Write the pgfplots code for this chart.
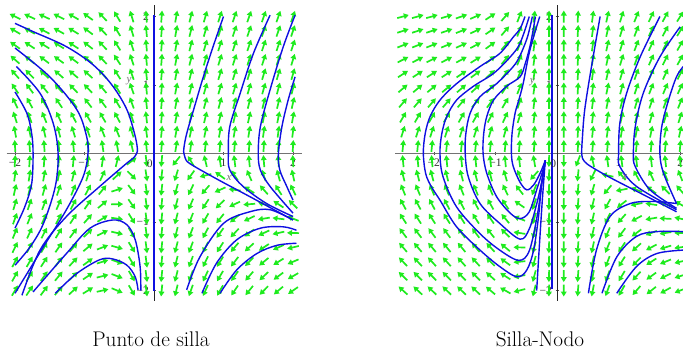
\documentclass[border=0pt]{standalone}
\usepackage{fontspec}
\newfontfamily\tickfont{Liberation Serif}
\usepackage{pgfplots}
\usepackage{pgfplotstable}
\pgfplotsset{compat=1.18}
\usetikzlibrary{arrows.meta}
\definecolor{fieldgreen}{RGB}{30,235,30}
\definecolor{trajblue}{RGB}{15,15,225}

\pgfplotstableread{
x y u v
-2.00 2.00 -4.00 2.00
-1.79 2.00 -3.58 1.70
-1.58 2.00 -3.16 1.51
-1.37 2.00 -2.74 1.39
-1.16 2.00 -2.32 1.37
-0.95 2.00 -1.90 1.42
-0.74 2.00 -1.48 1.57
-0.53 2.00 -1.06 1.81
-0.32 2.00 -0.64 2.13
-0.11 2.00 -0.22 2.55
0.11 2.00 0.22 3.07
0.32 2.00 0.64 3.67
0.53 2.00 1.06 4.35
0.74 2.00 1.48 5.13
0.95 2.00 1.90 5.98
1.16 2.00 2.32 6.93
1.37 2.00 2.74 7.97
1.58 2.00 3.16 9.09
1.79 2.00 3.58 10.3
2.00 2.00 4.00 11.6
-2.00 1.79 -3.58 2.13
-1.79 1.79 -3.20 1.79
-1.58 1.79 -2.83 1.53
-1.37 1.79 -2.45 1.37
-1.16 1.79 -2.08 1.28
-0.95 1.79 -1.70 1.29
-0.74 1.79 -1.32 1.40
-0.53 1.79 -0.95 1.57
-0.32 1.79 -0.57 1.85
-0.11 1.79 -0.20 2.20
0.11 1.79 0.20 2.68
0.32 1.79 0.57 3.21
0.53 1.79 0.95 3.85
0.74 1.79 1.32 4.56
0.95 1.79 1.70 5.37
1.16 1.79 2.08 6.28
1.37 1.79 2.45 7.25
1.58 1.79 2.83 8.33
1.79 1.79 3.20 9.47
2.00 1.79 3.58 10.73
-2.00 1.58 -3.16 2.29
-1.79 1.58 -2.83 1.88
-1.58 1.58 -2.50 1.58
-1.37 1.58 -2.16 1.37
-1.16 1.58 -1.83 1.23
-0.95 1.58 -1.50 1.18
-0.74 1.58 -1.17 1.23
-0.53 1.58 -0.84 1.35
-0.32 1.58 -0.51 1.57
-0.11 1.58 -0.17 1.88
0.11 1.58 0.17 2.30
0.32 1.58 0.51 2.79
0.53 1.58 0.84 3.37
0.74 1.58 1.17 4.03
0.95 1.58 1.50 4.78
1.16 1.58 1.83 5.63
1.37 1.58 2.16 6.55
1.58 1.58 2.50 7.58
1.79 1.58 2.83 8.68
2.00 1.58 3.16 9.87
-2.00 1.37 -2.74 2.46
-1.79 1.37 -2.45 2.01
-1.58 1.37 -2.16 1.66
-1.37 1.37 -1.88 1.38
-1.16 1.37 -1.59 1.19
-0.95 1.37 -1.30 1.09
-0.74 1.37 -1.01 1.08
-0.53 1.37 -0.73 1.15
-0.32 1.37 -0.44 1.32
-0.11 1.37 -0.15 1.58
0.11 1.37 0.15 1.94
0.32 1.37 0.44 2.38
0.53 1.37 0.73 2.91
0.74 1.37 1.01 3.52
0.95 1.37 1.30 4.21
1.16 1.37 1.59 5.01
1.37 1.37 1.88 5.88
1.58 1.37 2.16 6.84
1.79 1.37 2.45 7.89
2.00 1.37 2.74 9.04
-2.00 1.16 -2.32 2.65
-1.79 1.16 -2.08 2.13
-1.58 1.16 -1.83 1.73
-1.37 1.16 -1.59 1.40
-1.16 1.16 -1.35 1.16
-0.95 1.16 -1.10 1.01
-0.74 1.16 -0.86 0.95
-0.53 1.16 -0.61 0.97
-0.32 1.16 -0.37 1.08
-0.11 1.16 -0.13 1.28
0.11 1.16 0.13 1.60
0.32 1.16 0.37 1.98
0.53 1.16 0.61 2.45
0.74 1.16 0.86 3.01
0.95 1.16 1.10 3.65
1.16 1.16 1.35 4.40
1.37 1.16 1.59 5.22
1.58 1.16 1.83 6.13
1.79 1.16 2.08 7.13
2.00 1.16 2.32 8.21
-2.00 0.95 -1.90 2.85
-1.79 0.95 -1.70 2.29
-1.58 0.95 -1.50 1.83
-1.37 0.95 -1.30 1.45
-1.16 0.95 -1.10 1.16
-0.95 0.95 -0.90 0.95
-0.74 0.95 -0.70 0.84
-0.53 0.95 -0.50 0.81
-0.32 0.95 -0.30 0.87
-0.11 0.95 -0.10 1.02
0.11 0.95 0.10 1.26
0.32 0.95 0.30 1.59
0.53 0.95 0.50 2.01
0.74 0.95 0.70 2.52
0.95 0.95 0.90 3.11
1.16 0.95 1.10 3.80
1.37 0.95 1.30 4.57
1.58 0.95 1.50 5.43
1.79 0.95 1.70 6.37
2.00 0.95 1.90 7.41
-2.00 0.74 -1.48 3.07
-1.79 0.74 -1.32 2.47
-1.58 0.74 -1.17 1.95
-1.37 0.74 -1.01 1.51
-1.16 0.74 -0.86 1.17
-0.95 0.74 -0.70 0.91
-0.74 0.74 -0.55 0.74
-0.53 0.74 -0.39 0.66
-0.32 0.74 -0.24 0.66
-0.11 0.74 -0.08 0.76
0.11 0.74 0.08 0.96
0.32 0.74 0.24 1.24
0.53 0.74 0.39 1.60
0.74 0.74 0.55 2.06
0.95 0.74 0.70 2.59
1.16 0.74 0.86 3.23
1.37 0.74 1.01 3.95
1.58 0.74 1.17 4.75
1.79 0.74 1.32 5.63
2.00 0.74 1.48 6.63
-2.00 0.53 -1.06 3.32
-1.79 0.53 -0.95 2.65
-1.58 0.53 -0.84 2.08
-1.37 0.53 -0.73 1.59
-1.16 0.53 -0.61 1.20
-0.95 0.53 -0.50 0.89
-0.74 0.53 -0.39 0.67
-0.53 0.53 -0.28 0.53
-0.32 0.53 -0.17 0.49
-0.11 0.53 -0.06 0.53
0.11 0.53 0.06 0.67
0.32 0.53 0.17 0.89
0.53 0.53 0.28 1.21
0.74 0.53 0.39 1.61
0.95 0.53 0.50 2.09
1.16 0.53 0.61 2.68
1.37 0.53 0.73 3.35
1.58 0.53 0.84 4.10
1.79 0.53 0.95 4.93
2.00 0.53 1.06 5.86
-2.00 0.32 -0.64 3.57
-1.79 0.32 -0.57 2.86
-1.58 0.32 -0.51 2.23
-1.37 0.32 -0.44 1.69
-1.16 0.32 -0.37 1.24
-0.95 0.32 -0.30 0.88
-0.74 0.32 -0.24 0.60
-0.53 0.32 -0.17 0.42
-0.32 0.32 -0.10 0.32
-0.11 0.32 -0.04 0.31
0.11 0.32 0.04 0.39
0.32 0.32 0.10 0.56
0.53 0.32 0.17 0.82
0.74 0.32 0.24 1.18
0.95 0.32 0.30 1.60
1.16 0.32 0.37 2.14
1.37 0.32 0.44 2.75
1.58 0.32 0.51 3.45
1.79 0.32 0.57 4.22
2.00 0.32 0.64 5.11
-2.00 0.11 -0.22 3.85
-1.79 0.11 -0.20 3.07
-1.58 0.11 -0.17 2.40
-1.37 0.11 -0.15 1.81
-1.16 0.11 -0.13 1.30
-0.95 0.11 -0.10 0.89
-0.74 0.11 -0.08 0.56
-0.53 0.11 -0.06 0.32
-0.32 0.11 -0.04 0.17
-0.11 0.11 -0.01 0.11
0.11 0.11 0.01 0.13
0.32 0.11 0.04 0.25
0.53 0.11 0.06 0.46
0.74 0.11 0.08 0.76
0.95 0.11 0.10 1.13
1.16 0.11 0.13 1.62
1.37 0.11 0.15 2.17
1.58 0.11 0.17 2.82
1.79 0.11 0.20 3.55
2.00 0.11 0.22 4.37
-2.00 -0.11 0.22 4.15
-1.79 -0.11 0.20 3.33
-1.58 -0.11 0.17 2.60
-1.37 -0.11 0.15 1.95
-1.16 -0.11 0.13 1.40
-0.95 -0.11 0.10 0.91
-0.74 -0.11 0.08 0.54
-0.53 -0.11 0.06 0.24
-0.32 -0.11 0.04 0.03
-0.11 -0.11 0.01 -0.09
0.11 -0.11 -0.01 -0.11
0.32 -0.11 -0.04 -0.05
0.53 -0.11 -0.06 0.10
0.74 -0.11 -0.08 0.34
0.95 -0.11 -0.10 0.67
1.16 -0.11 -0.13 1.08
1.37 -0.11 -0.15 1.59
1.58 -0.11 -0.17 2.18
1.79 -0.11 -0.20 2.85
2.00 -0.11 -0.22 3.63
-2.00 -0.32 0.64 4.45
-1.79 -0.32 0.57 3.56
-1.58 -0.32 0.51 2.79
-1.37 -0.32 0.44 2.09
-1.16 -0.32 0.37 1.48
-0.95 -0.32 0.30 0.94
-0.74 -0.32 0.24 0.52
-0.53 -0.32 0.17 0.16
-0.32 -0.32 0.10 -0.10
-0.11 -0.32 0.04 -0.27
0.11 -0.32 -0.04 -0.35
0.32 -0.32 -0.10 -0.34
0.53 -0.32 -0.17 -0.24
0.74 -0.32 -0.24 -0.06
0.95 -0.32 -0.30 0.22
1.16 -0.32 -0.37 0.58
1.37 -0.32 -0.44 1.03
1.58 -0.32 -0.51 1.57
1.79 -0.32 -0.57 2.20
2.00 -0.32 -0.64 2.91
-2.00 -0.53 1.06 4.74
-1.79 -0.53 0.95 3.81
-1.58 -0.53 0.84 2.98
-1.37 -0.53 0.73 2.23
-1.16 -0.53 0.61 1.56
-0.95 -0.53 0.50 0.97
-0.74 -0.53 0.39 0.49
-0.53 -0.53 0.28 0.09
-0.32 -0.53 0.17 -0.23
-0.11 -0.53 0.06 -0.45
0.11 -0.53 -0.06 -0.59
0.32 -0.53 -0.17 -0.63
0.53 -0.53 -0.28 -0.59
0.74 -0.53 -0.39 -0.45
0.95 -0.53 -0.50 -0.23
1.16 -0.53 -0.61 0.08
1.37 -0.53 -0.73 0.47
1.58 -0.53 -0.84 0.96
1.79 -0.53 -0.95 1.53
2.00 -0.53 -1.06 2.20
-2.00 -0.74 1.48 5.04
-1.79 -0.74 1.32 4.04
-1.58 -0.74 1.17 3.16
-1.37 -0.74 1.01 2.36
-1.16 -0.74 0.86 1.64
-0.95 -0.74 0.70 1.00
-0.74 -0.74 0.55 0.47
-0.53 -0.74 0.39 0.01
-0.32 -0.74 0.24 -0.35
-0.11 -0.74 0.08 -0.63
0.11 -0.74 -0.08 -0.83
0.32 -0.74 -0.24 -0.93
0.53 -0.74 -0.39 -0.93
0.74 -0.74 -0.55 -0.85
0.95 -0.74 -0.70 -0.68
1.16 -0.74 -0.86 -0.42
1.37 -0.74 -1.01 -0.08
1.58 -0.74 -1.17 0.36
1.79 -0.74 -1.32 0.88
2.00 -0.74 -1.48 1.48
-2.00 -0.95 1.90 5.33
-1.79 -0.95 1.70 4.29
-1.58 -0.95 1.50 3.35
-1.37 -0.95 1.30 2.49
-1.16 -0.95 1.10 1.72
-0.95 -0.95 0.90 1.03
-0.74 -0.95 0.70 0.44
-0.53 -0.95 0.50 -0.07
-0.32 -0.95 0.30 -0.49
-0.11 -0.95 0.10 -0.82
0.11 -0.95 -0.10 -1.06
0.32 -0.95 -0.30 -1.21
0.53 -0.95 -0.50 -1.27
0.74 -0.95 -0.70 -1.24
0.95 -0.95 -0.90 -1.13
1.16 -0.95 -1.10 -0.92
1.37 -0.95 -1.30 -0.63
1.58 -0.95 -1.50 -0.25
1.79 -0.95 -1.70 0.21
2.00 -0.95 -1.90 0.77
-2.00 -1.16 2.32 5.62
-1.79 -1.16 2.08 4.54
-1.58 -1.16 1.83 3.54
-1.37 -1.16 1.59 2.63
-1.16 -1.16 1.35 1.81
-0.95 -1.16 1.10 1.06
-0.74 -1.16 0.86 0.42
-0.53 -1.16 0.61 -0.14
-0.32 -1.16 0.37 -0.61
-0.11 -1.16 0.13 -0.99
0.11 -1.16 -0.13 -1.31
0.32 -1.16 -0.37 -1.51
0.53 -1.16 -0.61 -1.62
0.74 -1.16 -0.86 -1.64
0.95 -1.16 -1.10 -1.58
1.16 -1.16 -1.35 -1.43
1.37 -1.16 -1.59 -1.19
1.58 -1.16 -1.83 -0.86
1.79 -1.16 -2.08 -0.46
2.00 -1.16 -2.32 0.06
-2.00 -1.37 2.74 5.92
-1.79 -1.37 2.45 4.77
-1.58 -1.37 2.16 3.72
-1.37 -1.37 1.88 2.76
-1.16 -1.37 1.59 1.89
-0.95 -1.37 1.30 1.09
-0.74 -1.37 1.01 0.40
-0.53 -1.37 0.73 -0.21
-0.32 -1.37 0.44 -0.74
-0.11 -1.37 0.15 -1.18
0.11 -1.37 -0.15 -1.54
0.32 -1.37 -0.44 -1.80
0.53 -1.37 -0.73 -1.97
0.74 -1.37 -1.01 -2.04
0.95 -1.37 -1.30 -2.03
1.16 -1.37 -1.59 -1.93
1.37 -1.37 -1.88 -1.74
1.58 -1.37 -2.16 -1.46
1.79 -1.37 -2.45 -1.11
2.00 -1.37 -2.74 -0.66
-2.00 -1.58 3.16 6.21
-1.79 -1.58 2.83 5.02
-1.58 -1.58 2.50 3.92
-1.37 -1.58 2.16 2.89
-1.16 -1.58 1.83 1.97
-0.95 -1.58 1.50 1.12
-0.74 -1.58 1.17 0.37
-0.53 -1.58 0.84 -0.29
-0.32 -1.58 0.51 -0.87
-0.11 -1.58 0.17 -1.36
0.11 -1.58 -0.17 -1.78
0.32 -1.58 -0.51 -2.09
0.53 -1.58 -0.84 -2.31
0.74 -1.58 -1.17 -2.43
0.95 -1.58 -1.50 -2.48
1.16 -1.58 -1.83 -2.43
1.37 -1.58 -2.16 -2.29
1.58 -1.58 -2.50 -2.08
1.79 -1.58 -2.83 -1.78
2.00 -1.58 -3.16 -1.37
-2.00 -1.79 3.58 6.51
-1.79 -1.79 3.20 5.25
-1.58 -1.79 2.83 4.11
-1.37 -1.79 2.45 3.03
-1.16 -1.79 2.08 2.06
-0.95 -1.79 1.70 1.15
-0.74 -1.79 1.32 0.34
-0.53 -1.79 0.95 -0.37
-0.32 -1.79 0.57 -1.01
-0.11 -1.79 0.20 -1.54
0.11 -1.79 -0.20 -2.02
0.32 -1.79 -0.57 -2.37
0.53 -1.79 -0.95 -2.65
0.74 -1.79 -1.32 -2.82
0.95 -1.79 -1.70 -2.93
1.16 -1.79 -2.08 -2.94
1.37 -1.79 -2.45 -2.85
1.58 -1.79 -2.83 -2.69
1.79 -1.79 -3.20 -2.43
2.00 -1.79 -3.58 -2.09
-2.00 -2.00 4.00 6.80
-1.79 -2.00 3.58 5.50
-1.58 -2.00 3.16 4.29
-1.37 -2.00 2.74 3.17
-1.16 -2.00 2.32 2.13
-0.95 -2.00 1.90 1.18
-0.74 -2.00 1.48 0.33
-0.53 -2.00 1.06 -0.45
-0.32 -2.00 0.64 -1.13
-0.11 -2.00 0.22 -1.73
0.11 -2.00 -0.22 -2.25
0.32 -2.00 -0.64 -2.67
0.53 -2.00 -1.06 -2.99
0.74 -2.00 -1.48 -3.23
0.95 -2.00 -1.90 -3.38
1.16 -2.00 -2.32 -3.43
1.37 -2.00 -2.74 -3.41
1.58 -2.00 -3.16 -3.29
1.79 -2.00 -3.58 -3.10
2.00 -2.00 -4.00 -2.80
}\fieldL

\pgfplotstableread{
x y u v
-2.50 2.00 12.5 3.05
-2.26 2.00 10.2 2.49
-2.03 2.00 8.24 2.05
-1.79 2.00 6.40 1.70
-1.55 2.00 4.80 1.48
-1.32 2.00 3.48 1.37
-1.08 2.00 2.34 1.38
-0.84 2.00 1.42 1.49
-0.61 2.00 0.74 1.71
-0.37 2.00 0.28 2.05
-0.13 2.00 0.04 2.51
0.11 2.00 0.02 3.07
0.34 2.00 0.24 3.74
0.58 2.00 0.68 4.53
0.82 2.00 1.34 5.44
1.05 2.00 2.20 6.42
1.29 2.00 3.32 7.56
1.53 2.00 4.68 8.81
1.76 2.00 6.20 10.12
2.00 2.00 8.00 11.6
-2.50 1.79 11.19 3.30
-2.26 1.79 9.15 2.68
-2.03 1.79 7.37 2.19
-1.79 1.79 5.73 1.78
-1.55 1.79 4.30 1.50
-1.32 1.79 3.11 1.33
-1.08 1.79 2.09 1.28
-0.84 1.79 1.27 1.33
-0.61 1.79 0.66 1.49
-0.37 1.79 0.25 1.77
-0.13 1.79 0.04 2.17
0.11 1.79 0.02 2.68
0.34 1.79 0.21 3.28
0.58 1.79 0.61 4.02
0.82 1.79 1.20 4.86
1.05 1.79 1.97 5.79
1.29 1.79 2.97 6.86
1.53 1.79 4.19 8.06
1.76 1.79 5.55 9.31
2.00 1.79 7.16 10.73
-2.50 1.58 9.88 3.58
-2.26 1.58 8.07 2.90
-2.03 1.58 6.51 2.34
-1.79 1.58 5.06 1.88
-1.55 1.58 3.79 1.53
-1.32 1.58 2.75 1.31
-1.08 1.58 1.85 1.20
-0.84 1.58 1.12 1.19
-0.61 1.58 0.58 1.29
-0.37 1.58 0.22 1.52
-0.13 1.58 0.03 1.85
0.11 1.58 0.02 2.30
0.34 1.58 0.19 2.85
0.58 1.58 0.54 3.52
0.82 1.58 1.06 4.31
1.05 1.58 1.74 5.18
1.29 1.58 2.62 6.19
1.53 1.58 3.70 7.33
1.76 1.58 4.90 8.52
2.00 1.58 6.32 9.88
-2.50 1.37 8.56 3.90
-2.26 1.37 7.00 3.15
-2.03 1.37 5.64 2.54
-1.79 1.37 4.38 2.01
-1.55 1.37 3.29 1.61
-1.32 1.37 2.38 1.33
-1.08 1.37 1.60 1.15
-0.84 1.37 0.97 1.08
-0.61 1.37 0.51 1.12
-0.37 1.37 0.19 1.28
-0.13 1.37 0.03 1.56
0.11 1.37 0.01 1.94
0.34 1.37 0.16 2.43
0.58 1.37 0.47 3.04
0.82 1.37 0.92 3.76
1.05 1.37 1.51 4.57
1.29 1.37 2.27 5.53
1.53 1.37 3.21 6.60
1.76 1.37 4.25 7.74
2.00 1.37 5.48 9.03
-2.50 1.16 7.25 4.20
-2.26 1.16 5.93 3.40
-2.03 1.16 4.78 2.73
-1.79 1.16 3.71 2.14
-1.55 1.16 2.78 1.68
-1.32 1.16 2.02 1.34
-1.08 1.16 1.36 1.10
-0.84 1.16 0.82 0.97
-0.61 1.16 0.43 0.95
-0.37 1.16 0.16 1.06
-0.13 1.16 0.02 1.27
0.11 1.16 0.01 1.59
0.34 1.16 0.14 2.02
0.58 1.16 0.39 2.58
0.82 1.16 0.78 3.24
1.05 1.16 1.28 3.99
1.29 1.16 1.93 4.88
1.53 1.16 2.71 5.90
1.76 1.16 3.60 6.98
2.00 1.16 4.64 8.21
-2.50 0.95 5.94 4.53
-2.26 0.95 4.85 3.66
-2.03 0.95 3.91 2.94
-1.79 0.95 3.04 2.29
-1.55 0.95 2.28 1.76
-1.32 0.95 1.65 1.37
-1.08 0.95 1.11 1.07
-0.84 0.95 0.67 0.88
-0.61 0.95 0.35 0.80
-0.37 0.95 0.13 0.85
-0.13 0.95 0.02 1.00
0.11 0.95 0.01 1.27
0.34 0.95 0.11 1.64
0.58 0.95 0.32 2.13
0.82 0.95 0.64 2.73
1.05 0.95 1.05 3.43
1.29 0.95 1.58 4.26
1.53 0.95 2.22 5.21
1.76 0.95 2.95 6.24
2.00 0.95 3.80 7.41
-2.50 0.74 4.63 4.87
-2.26 0.74 3.78 3.95
-2.03 0.74 3.05 3.16
-1.79 0.74 2.37 2.46
-1.55 0.74 1.78 1.87
-1.32 0.74 1.29 1.42
-1.08 0.74 0.87 1.06
-0.84 0.74 0.53 0.81
-0.61 0.74 0.27 0.68
-0.37 0.74 0.10 0.66
-0.13 0.74 0.01 0.75
0.11 0.74 0.01 0.96
0.34 0.74 0.09 1.27
0.58 0.74 0.25 1.71
0.82 0.74 0.50 2.25
1.05 0.74 0.81 2.88
1.29 0.74 1.23 3.66
1.53 0.74 1.73 4.55
1.76 0.74 2.29 5.52
2.00 0.74 2.96 6.63
-2.50 0.53 3.31 5.24
-2.26 0.53 2.71 4.25
-2.03 0.53 2.18 3.41
-1.79 0.53 1.70 2.64
-1.55 0.53 1.27 2.00
-1.32 0.53 0.92 1.49
-1.08 0.53 0.62 1.07
-0.84 0.53 0.38 0.76
-0.61 0.53 0.20 0.57
-0.37 0.53 0.07 0.49
-0.13 0.53 0.01 0.53
0.11 0.53 0.01 0.67
0.34 0.53 0.06 0.93
0.58 0.53 0.18 1.30
0.82 0.53 0.36 1.78
1.05 0.53 0.58 2.36
1.29 0.53 0.88 3.08
1.53 0.53 1.24 3.91
1.76 0.53 1.64 4.82
2.00 0.53 2.12 5.87
-2.50 0.32 2.00 5.64
-2.26 0.32 1.64 4.59
-2.03 0.32 1.32 3.69
-1.79 0.32 1.02 2.86
-1.55 0.32 0.77 2.15
-1.32 0.32 0.56 1.58
-1.08 0.32 0.37 1.10
-0.84 0.32 0.23 0.73
-0.61 0.32 0.12 0.48
-0.37 0.32 0.04 0.34
-0.13 0.32 0.01 0.31
0.11 0.32 0.003 0.39
0.34 0.32 0.04 0.59
0.58 0.32 0.11 0.90
0.82 0.32 0.21 1.32
1.05 0.32 0.35 1.84
1.29 0.32 0.53 2.49
1.53 0.32 0.75 3.26
1.76 0.32 0.99 4.11
2.00 0.32 1.28 5.10
-2.50 0.11 0.69 6.03
-2.26 0.11 0.56 4.93
-2.03 0.11 0.45 3.97
-1.79 0.11 0.35 3.08
-1.55 0.11 0.26 2.31
-1.32 0.11 0.19 1.68
-1.08 0.11 0.13 1.14
-0.84 0.11 0.08 0.71
-0.61 0.11 0.04 0.40
-0.37 0.11 0.015 0.20
-0.13 0.11 0.002 0.11
0.11 0.11 0.001 0.13
0.34 0.11 0.013 0.27
0.58 0.11 0.04 0.53
0.82 0.11 0.07 0.89
1.05 0.11 0.12 1.35
1.29 0.11 0.18 1.94
1.53 0.11 0.26 2.65
1.76 0.11 0.34 3.44
2.00 0.11 0.44 4.37
-2.50 -0.11 -0.69 6.47
-2.26 -0.11 -0.56 5.29
-2.03 -0.11 -0.45 4.27
-1.79 -0.11 -0.35 3.32
-1.55 -0.11 -0.26 2.49
-1.32 -0.11 -0.19 1.80
-1.08 -0.11 -0.13 1.20
-0.84 -0.11 -0.08 0.71
-0.61 -0.11 -0.04 0.34
-0.37 -0.11 -0.015 0.08
-0.13 -0.11 -0.002 -0.07
0.11 -0.11 -0.001 -0.11
0.34 -0.11 -0.013 -0.03
0.58 -0.11 -0.04 0.15
0.82 -0.11 -0.07 0.45
1.05 -0.11 -0.12 0.85
1.29 -0.11 -0.18 1.38
1.53 -0.11 -0.26 2.03
1.76 -0.11 -0.34 2.76
2.00 -0.11 -0.44 3.63
-2.50 -0.32 -2.00 6.88
-2.26 -0.32 -1.64 5.65
-2.03 -0.32 -1.32 4.57
-1.79 -0.32 -1.02 3.56
-1.55 -0.32 -0.77 2.67
-1.32 -0.32 -0.56 1.92
-1.08 -0.32 -0.37 1.26
-0.84 -0.32 -0.23 0.71
-0.61 -0.32 -0.12 0.28
-0.37 -0.32 -0.04 -0.04
-0.13 -0.32 -0.01 -0.25
0.11 -0.32 -0.003 -0.35
0.34 -0.32 -0.04 -0.33
0.58 -0.32 -0.11 -0.20
0.82 -0.32 -0.21 0.04
1.05 -0.32 -0.35 0.38
1.29 -0.32 -0.53 0.85
1.53 -0.32 -0.75 1.44
1.76 -0.32 -0.99 2.11
2.00 -0.32 -1.28 2.92
-2.50 -0.53 -3.31 7.32
-2.26 -0.53 -2.71 6.03
-2.03 -0.53 -2.18 4.89
-1.79 -0.53 -1.70 3.82
-1.55 -0.53 -1.27 2.86
-1.32 -0.53 -0.92 2.05
-1.08 -0.53 -0.62 1.33
-0.84 -0.53 -0.38 0.72
-0.61 -0.53 -0.20 0.23
-0.37 -0.53 -0.07 -0.15
-0.13 -0.53 -0.01 -0.43
0.11 -0.53 -0.01 -0.59
0.34 -0.53 -0.06 -0.63
0.58 -0.53 -0.18 -0.56
0.82 -0.53 -0.36 -0.38
1.05 -0.53 -0.58 -0.10
1.29 -0.53 -0.88 0.30
1.53 -0.53 -1.24 0.83
1.76 -0.53 -1.64 1.44
2.00 -0.53 -2.12 2.19
-2.50 -0.74 -4.63 7.74
-2.26 -0.74 -3.78 6.38
-2.03 -0.74 -3.05 5.19
-1.79 -0.74 -2.37 4.05
-1.55 -0.74 -1.78 3.04
-1.32 -0.74 -1.29 2.17
-1.08 -0.74 -0.87 1.39
-0.84 -0.74 -0.53 0.72
-0.61 -0.74 -0.27 0.17
-0.37 -0.74 -0.10 -0.27
-0.13 -0.74 -0.01 -0.60
0.11 -0.74 -0.01 -0.83
0.34 -0.74 -0.09 -0.92
0.58 -0.74 -0.25 -0.92
0.82 -0.74 -0.50 -0.80
1.05 -0.74 -0.81 -0.57
1.29 -0.74 -1.23 -0.23
1.53 -0.74 -1.73 0.24
1.76 -0.74 -2.29 0.79
2.00 -0.74 -2.96 1.48
-2.50 -0.95 -5.94 8.15
-2.26 -0.95 -4.85 6.74
-2.03 -0.95 -3.91 5.48
-1.79 -0.95 -3.04 4.29
-1.55 -0.95 -2.28 3.22
-1.32 -0.95 -1.65 2.29
-1.08 -0.95 -1.11 1.45
-0.84 -0.95 -0.67 0.72
-0.61 -0.95 -0.35 0.12
-0.37 -0.95 -0.13 -0.39
-0.13 -0.95 -0.02 -0.78
0.11 -0.95 -0.01 -1.07
0.34 -0.95 -0.11 -1.22
0.58 -0.95 -0.32 -1.27
0.82 -0.95 -0.64 -1.21
1.05 -0.95 -1.05 -1.05
1.29 -0.95 -1.58 -0.76
1.53 -0.95 -2.22 -0.35
1.76 -0.95 -2.95 0.14
2.00 -0.95 -3.80 0.77
-2.50 -1.16 -7.25 8.57
-2.26 -1.16 -5.93 7.09
-2.03 -1.16 -4.78 5.78
-1.79 -1.16 -3.71 4.53
-1.55 -1.16 -2.78 3.39
-1.32 -1.16 -2.02 2.41
-1.08 -1.16 -1.36 1.51
-0.84 -1.16 -0.82 0.72
-0.61 -1.16 -0.43 0.06
-0.37 -1.16 -0.16 -0.51
-0.13 -1.16 -0.02 -0.96
0.11 -1.16 -0.01 -1.30
0.34 -1.16 -0.14 -1.51
0.58 -1.16 -0.39 -1.63
0.82 -1.16 -0.78 -1.63
1.05 -1.16 -1.28 -1.52
1.29 -1.16 -1.93 -1.29
1.53 -1.16 -2.71 -0.95
1.76 -1.16 -3.60 -0.51
2.00 -1.16 -4.64 0.06
-2.50 -1.37 -8.56 8.98
-2.26 -1.37 -7.00 7.45
-2.03 -1.37 -5.64 6.08
-1.79 -1.37 -4.38 4.77
-1.55 -1.37 -3.29 3.57
-1.32 -1.37 -2.38 2.53
-1.08 -1.37 -1.60 1.57
-0.84 -1.37 -0.97 0.72
-0.61 -1.37 -0.51 0.01
-0.37 -1.37 -0.19 -0.62
-0.13 -1.37 -0.03 -1.14
0.11 -1.37 -0.01 -1.54
0.34 -1.37 -0.16 -1.81
0.58 -1.37 -0.47 -1.98
0.82 -1.37 -0.92 -2.04
1.05 -1.37 -1.51 -1.99
1.29 -1.37 -2.27 -1.83
1.53 -1.37 -3.21 -1.54
1.76 -1.37 -4.25 -1.16
2.00 -1.37 -5.48 -0.65
-2.50 -1.58 -9.88 9.42
-2.26 -1.58 -8.07 7.82
-2.03 -1.58 -6.51 6.40
-1.79 -1.58 -5.06 5.02
-1.55 -1.58 -3.79 3.77
-1.32 -1.58 -2.75 2.67
-1.08 -1.58 -1.85 1.64
-0.84 -1.58 -1.12 0.73
-0.61 -1.58 -0.58 -0.05
-0.37 -1.58 -0.22 -0.74
-0.13 -1.58 -0.03 -1.31
0.11 -1.58 -0.02 -1.78
0.34 -1.58 -0.19 -2.11
0.58 -1.58 -0.54 -2.34
0.82 -1.58 -1.06 -2.47
1.05 -1.58 -1.74 -2.48
1.29 -1.58 -2.62 -2.37
1.53 -1.58 -3.70 -2.15
1.76 -1.58 -4.90 -1.82
2.00 -1.58 -6.32 -1.38
-2.50 -1.79 -11.19 9.84
-2.26 -1.79 -9.15 8.18
-2.03 -1.79 -7.37 6.69
-1.79 -1.79 -5.73 5.26
-1.55 -1.79 -4.30 3.94
-1.32 -1.79 -3.11 2.79
-1.08 -1.79 -2.09 1.70
-0.84 -1.79 -1.27 0.73
-0.61 -1.79 -0.66 -0.11
-0.37 -1.79 -0.25 -0.85
-0.13 -1.79 -0.04 -1.49
0.11 -1.79 -0.02 -2.02
0.34 -1.79 -0.21 -2.40
0.58 -1.79 -0.61 -2.70
0.82 -1.79 -1.20 -2.88
1.05 -1.79 -1.97 -2.95
1.29 -1.79 -2.97 -2.90
1.53 -1.79 -4.19 -2.74
1.76 -1.79 -5.55 -2.47
2.00 -1.79 -7.16 -2.09
-2.50 -2.00 -12.5 10.25
-2.26 -2.00 -10.2 8.53
-2.03 -2.00 -8.24 6.99
-1.79 -2.00 -6.40 5.50
-1.55 -2.00 -4.80 4.12
-1.32 -2.00 -3.48 2.91
-1.08 -2.00 -2.34 1.76
-0.84 -2.00 -1.42 0.73
-0.61 -2.00 -0.74 -0.17
-0.37 -2.00 -0.28 -0.97
-0.13 -2.00 -0.04 -1.67
0.11 -2.00 -0.02 -2.25
0.34 -2.00 -0.24 -2.70
0.58 -2.00 -0.68 -3.05
0.82 -2.00 -1.34 -3.30
1.05 -2.00 -2.20 -3.42
1.29 -2.00 -3.32 -3.44
1.53 -2.00 -4.68 -3.33
1.76 -2.00 -6.20 -3.12
2.00 -2.00 -8.00 -2.80
}\fieldR

\pgfplotsset{
  phase/.style={
    axis lines=middle, enlargelimits=false, clip=false,
    axis line style={-},
    every inner x axis line/.append style={-},
    every inner y axis line/.append style={-},
    x axis line style={draw=black!55, line width=0.9pt},
    y axis line style={draw=black!85, line width=0.9pt},
    xtick={-2,-1,1,2}, ytick={-2,-1,1,2},
    xticklabels={−2,−1,1,2}, yticklabels={−2,−1,1,2},
    tick label style={font=\tickfont\fontsize{11.5}{12}\selectfont, text=black!80},
    major tick length=3pt,
    tick style={draw=black!70, line width=0.6pt},
  },
  traj/.style={trajblue, line width=1.4pt, smooth, tension=0.55, no markers},
  field/.style={fieldgreen, line width=1.7pt, -{Triangle[length=5pt,width=5.6pt]}, no markers},
}

\begin{document}
\begin{tikzpicture}
\useasboundingbox (0,0) rectangle (683pt,-352pt);

% ---------------- left: Punto de silla ----------------
\begin{axis}[phase, at={(6.66pt,-300.8pt)}, anchor=south west,
  x=69.5pt, y=68.5pt, xmin=-2.12, xmax=2.13, ymin=-2.15, ymax=2.17]
\addplot[field, quiver={
    u={0.17266*cos(atan2(68.5*\thisrow{v},69.5*\thisrow{u}))},
    v={0.17518*sin(atan2(68.5*\thisrow{v},69.5*\thisrow{u}))}}]
  table[x expr={\thisrow{x}-0.08633*cos(atan2(68.5*\thisrow{v},69.5*\thisrow{u}))},
        y expr={\thisrow{y}-0.08759*sin(atan2(68.5*\thisrow{v},69.5*\thisrow{u}))}] {\fieldL};
\addplot[trajblue, line width=1.4pt, no markers] coordinates {(0,-2.0) (0,2.02)};
\addplot[traj] coordinates {(-2.0,0.90) (-1.83,0.59) (-1.76,0.29) (-1.74,0) (-1.76,-0.44) (-1.86,-0.78) (-2.0,-1.09)};
\addplot[traj] coordinates {(-1.98,1.27) (-1.64,0.88) (-1.45,0.44) (-1.38,0) (-1.42,-0.48) (-1.59,-1.02) (-1.78,-1.36) (-2.0,-1.63)};
\addplot[traj] coordinates {(-2.0,1.54) (-1.5,1.12) (-1.11,0.64) (-0.97,0.25) (-0.95,0) (-1.02,-0.34) (-1.26,-0.82) (-1.59,-1.36) (-2.0,-2.04)};
\addplot[traj] coordinates {(-2.0,1.90) (-1.74,1.78) (-1.26,1.56) (-0.87,1.29) (-0.59,0.98) (-0.39,0.64) (-0.28,0.29) (-0.24,0.08) (-0.25,0) (-0.30,-0.07) (-0.39,-0.14) (-0.78,-0.48) (-1.26,-0.92) (-1.64,-1.41) (-1.9,-2.07)};
\addplot[traj] coordinates {(-1.74,-2.02) (-1.26,-1.46) (-0.92,-1.09) (-0.59,-0.97) (-0.39,-1.04) (-0.27,-1.26) (-0.20,-1.65) (-0.19,-2.0)};
\addplot[traj] coordinates {(-1.42,-2.04) (-1.11,-1.75) (-0.78,-1.55) (-0.59,-1.54) (-0.39,-1.63) (-0.27,-1.8) (-0.23,-1.99)};
\addplot[traj] coordinates {(1.0,2.0) (0.85,1.56) (0.71,1.12) (0.57,0.64) (0.47,0.29) (0.43,0.08) (0.43,0) (0.45,-0.07) (0.52,-0.15) (0.9,-0.37) (1.38,-0.63) (2.0,-0.97)};
\addplot[traj] coordinates {(1.67,2.02) (1.43,1.46) (1.24,0.88) (1.09,0.39) (1.07,0) (1.09,-0.24) (1.28,-0.48) (1.62,-0.73) (2.0,-0.92)};
\addplot[traj] coordinates {(2.03,2.02) (1.86,1.56) (1.67,0.93) (1.53,0.39) (1.5,0) (1.53,-0.24) (1.67,-0.48) (2.0,-0.87)};
\addplot[traj] coordinates {(2.03,1.12) (1.93,0.78) (1.84,0.39) (1.79,0) (1.81,-0.24) (1.91,-0.48) (2.0,-0.68)};
\addplot[traj] coordinates {(0.47,-1.99) (0.66,-1.51) (1.0,-1.02) (1.38,-0.85) (1.67,-0.82) (2.0,-0.97)};
\addplot[traj] coordinates {(0.69,-2.04) (0.9,-1.6) (1.19,-1.26) (1.53,-1.09) (1.86,-1.07) (2.05,-1.12)};
\addplot[traj] coordinates {(0.95,-2.04) (1.19,-1.7) (1.48,-1.46) (1.77,-1.34) (2.05,-1.31)};
\node[font=\tickfont\fontsize{11.5}{12}\selectfont, text=black!80] at (axis cs:-0.06,-0.15) {0};
\node[font=\tickfont\itshape\fontsize{11}{12}\selectfont, text=black!55] at (axis cs:1.08,-0.36) {x};
\node[font=\tickfont\itshape\fontsize{11}{12}\selectfont, text=black!55] at (axis cs:-0.36,1.06) {y};
\end{axis}

% ---------------- right: Silla-Nodo ----------------
\begin{axis}[phase, at={(395.0pt,-300.8pt)}, anchor=south west,
  x=61.6pt, y=68.5pt, xmin=-2.63, xmax=2.06, ymin=-2.15, ymax=2.17]
\addplot[field, quiver={
    u={0.19481*cos(atan2(68.5*\thisrow{v},61.6*\thisrow{u}))},
    v={0.17518*sin(atan2(68.5*\thisrow{v},61.6*\thisrow{u}))}}]
  table[x expr={\thisrow{x}-0.09740*cos(atan2(68.5*\thisrow{v},61.6*\thisrow{u}))},
        y expr={\thisrow{y}-0.08759*sin(atan2(68.5*\thisrow{v},61.6*\thisrow{u}))}] {\fieldR};
\addplot[trajblue, line width=1.6pt, no markers] coordinates {(-0.08,-1.98) (-0.08,2.02)};
\addplot[traj] coordinates {(-0.52,2.0) (-0.6,1.82) (-0.71,1.7) (-0.93,1.46) (-1.25,1.27) (-1.63,1.02) (-1.9,0.78) (-2.06,0.54) (-2.14,0.29) (-2.17,0) (-2.13,-0.3) (-2.03,-0.5) (-1.9,-0.68) (-1.63,-1.07) (-1.25,-1.41) (-0.93,-1.65) (-0.65,-1.8) (-0.49,-1.7) (-0.38,-1.41) (-0.3,-0.92) (-0.25,-0.44) (-0.19,-0.1)};
\addplot[traj] coordinates {(-0.45,2.0) (-0.6,1.61) (-0.76,1.41) (-1.03,1.17) (-1.36,0.98) (-1.63,0.78) (-1.79,0.54) (-1.87,0.29) (-1.9,0) (-1.85,-0.34) (-1.63,-0.78) (-1.25,-1.17) (-0.93,-1.41) (-0.62,-1.56) (-0.45,-1.42) (-0.32,-0.9) (-0.24,-0.4) (-0.19,-0.1)};
\addplot[traj] coordinates {(-0.4,2.0) (-0.48,1.7) (-0.6,1.43) (-0.71,1.27) (-0.98,1.02) (-1.25,0.83) (-1.41,0.59) (-1.48,0.29) (-1.49,0) (-1.44,-0.34) (-1.25,-0.73) (-0.93,-1.02) (-0.6,-1.25) (-0.45,-1.1) (-0.32,-0.7) (-0.23,-0.33) (-0.19,-0.1)};
\addplot[traj] coordinates {(-0.35,2.0) (-0.43,1.6) (-0.52,1.3) (-0.6,1.12) (-0.82,0.98) (-1.03,0.78) (-1.14,0.54) (-1.19,0.29) (-1.2,0) (-1.14,-0.29) (-0.98,-0.63) (-0.76,-0.87) (-0.6,-0.95) (-0.45,-0.85) (-0.32,-0.5) (-0.22,-0.22) (-0.19,-0.1)};
\addplot[traj] coordinates {(-0.28,2.0) (-0.44,1.51) (-0.55,1.02) (-0.62,0.78) (-0.68,0.59) (-0.73,0.29) (-0.74,0) (-0.71,-0.19) (-0.6,-0.42) (-0.49,-0.53) (-0.38,-0.46) (-0.27,-0.28) (-0.19,-0.1)};
\addplot[traj] coordinates {(-0.19,-0.1) (-0.24,-0.7) (-0.29,-1.4) (-0.33,-2.0)};
\addplot[traj] coordinates {(0.7,2.0) (0.56,1.27) (0.45,0.64) (0.41,0.2) (0.4,0) (0.41,-0.06) (0.45,-0.12) (0.55,-0.19) (0.86,-0.35) (1.4,-0.6) (1.94,-0.85)};
\addplot[traj] coordinates {(1.67,2.0) (1.35,1.41) (1.13,0.88) (1.02,0.44) (1.0,0) (1.02,-0.19) (1.29,-0.48) (1.94,-0.82)};
\addplot[traj] coordinates {(2.0,1.85) (1.67,1.41) (1.4,0.88) (1.27,0.39) (1.24,0) (1.27,-0.19) (1.51,-0.53) (1.94,-0.8)};
\addplot[traj] coordinates {(2.05,1.27) (1.94,1.12) (1.81,0.78) (1.7,0.39) (1.67,0) (1.73,-0.29) (1.94,-0.73)};
\addplot[traj] coordinates {(0.51,-2.04) (0.64,-1.41) (0.86,-0.92) (1.19,-0.73) (1.56,-0.7) (1.94,-0.73)};
\addplot[traj] coordinates {(0.73,-2.04) (0.97,-1.51) (1.29,-1.21) (1.62,-1.14) (2.05,-1.14)};
\addplot[traj] coordinates {(0.97,-2.04) (1.29,-1.65) (1.62,-1.46) (2.05,-1.41)};
\node[font=\tickfont\fontsize{11.5}{12}\selectfont, text=black!80] at (axis cs:-0.06,-0.15) {0};
\node[font=\tickfont\itshape\fontsize{11}{12}\selectfont, text=black!55] at (axis cs:1.10,-0.34) {x};
\node[font=\tickfont\itshape\fontsize{11}{12}\selectfont, text=black!55] at (axis cs:-0.40,1.04) {y};
\end{axis}

\node[font=\fontsize{21.2}{25}\selectfont, anchor=base] at (151pt,-347pt) {Punto de silla};
\node[font=\fontsize{21.2}{25}\selectfont, anchor=base] at (540pt,-347pt) {Silla-Nodo};
\end{tikzpicture}
\end{document}
